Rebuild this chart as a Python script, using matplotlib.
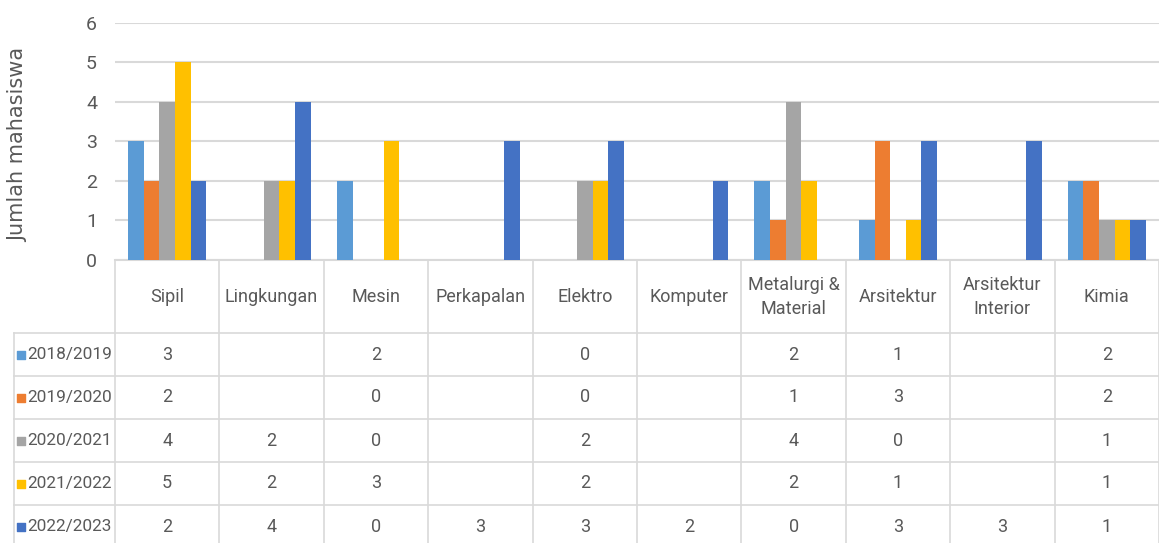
import numpy as np
import matplotlib.pyplot as plt

# data
categories = ['Sipil', 'Lingkungan', 'Mesin', 'Perkapalan', 'Elektro', 'Komputer',
              'Metalurgi &\nMaterial', 'Arsitektur', 'Arsitektur\nInterior', 'Kimia']
series_names = ['2018/2019', '2019/2020', '2020/2021', '2021/2022', '2022/2023']
s2018 = [3, None, 2, None, 0, None, 2, 1, None, 2]
s2019 = [2, None, 0, None, 0, None, 1, 3, None, 2]
s2020 = [4, 2, 0, None, 2, None, 4, 0, None, 1]
s2021 = [5, 2, 3, None, 2, None, 2, 1, None, 1]
s2022 = [2, 4, 0, 3, 3, 2, 0, 3, 3, 1]
series = [s2018, s2019, s2020, s2021, s2022]
colors = ['#5B9BD5', '#ED7D31', '#A5A5A5', '#FFC000', '#4472C4']
y_ticks = [0, 1, 2, 3, 4, 5, 6]

W, H = 1159, 543
TXT = '#595959'
LINE = '#d9d9d9'
narrow = ['Roboto', 'DejaVu Sans']

fig = plt.figure(figsize=(W / 100, H / 100), dpi=100)

# plot area in pixels
x0, x1 = 115, 1159
ytop, ybot = 22.5, 260
ax = fig.add_axes([x0 / W, 1 - ybot / H, (x1 - x0) / W, (ybot - ytop) / H])
n = len(categories)
bw = 0.15
for k, (vals, c) in enumerate(zip(series, colors)):
    xs = [i + (k - 2) * bw for i, v in enumerate(vals) if v]
    hs = [v for v in vals if v]
    ax.bar(xs, hs, width=bw, color=c, zorder=3)
ax.set_xlim(-0.5, n - 0.5)
ax.set_ylim(0, 6)
ax.set_yticks(y_ticks)
ax.set_yticklabels([str(t) for t in y_ticks], family=narrow, fontsize=14, color=TXT)
ax.tick_params(axis='y', length=0, pad=13)
ax.set_xticks([])
for s in ['top', 'right', 'left']:
    ax.spines[s].set_visible(False)
ax.spines['bottom'].set_color(LINE)
ax.spines['bottom'].set_linewidth(1.5)
ax.grid(axis='y', color=LINE, linewidth=1.5, zorder=0)
ax.set_axisbelow(True)
fig.text(18 / W, 1 - 145 / H, 'Jumlah mahasiswa', rotation=90, ha='center', va='center',
         fontsize=15, color=TXT, family='DejaVu Sans')

# data table (pixel coordinates, y downward)
tb = fig.add_axes([0, 0, 1, 1 - ybot / H])
tb.set_xlim(0, W)
tb.set_ylim(H, ybot)
tb.axis('off')
cw = (x1 - x0) / n
row_lines = [333, 376, 419, 462, 505]
# vertical lines
for i in range(n + 1):
    xv = x0 + i * cw
    tb.plot([xv, xv], [ybot, H], color=LINE, lw=1.2)
tb.plot([14, 14], [row_lines[0], H], color=LINE, lw=1.2)
for yl in row_lines:
    tb.plot([14, x1], [yl, yl], color=LINE, lw=1.2)
# header
for i, cat in enumerate(categories):
    tb.text(x0 + (i + 0.5) * cw, 297, cat, ha='center', va='center', fontsize=13,
            color=TXT, family=narrow, linespacing=1.45)
# rows
for r, (name, vals, c) in enumerate(zip(series_names, series, colors)):
    yc = row_lines[r] + 21.5
    tb.scatter([21], [yc], marker='s', s=30, color=c)
    tb.text(27, yc, name, ha='left', va='center', fontsize=12.4, color=TXT, family=narrow)
    for i, v in enumerate(vals):
        if v is not None:
            tb.text(x0 + (i + 0.5) * cw, yc, str(v), ha='center', va='center',
                    fontsize=13, color=TXT, family=narrow)

fig.savefig('out.png', dpi=100)
